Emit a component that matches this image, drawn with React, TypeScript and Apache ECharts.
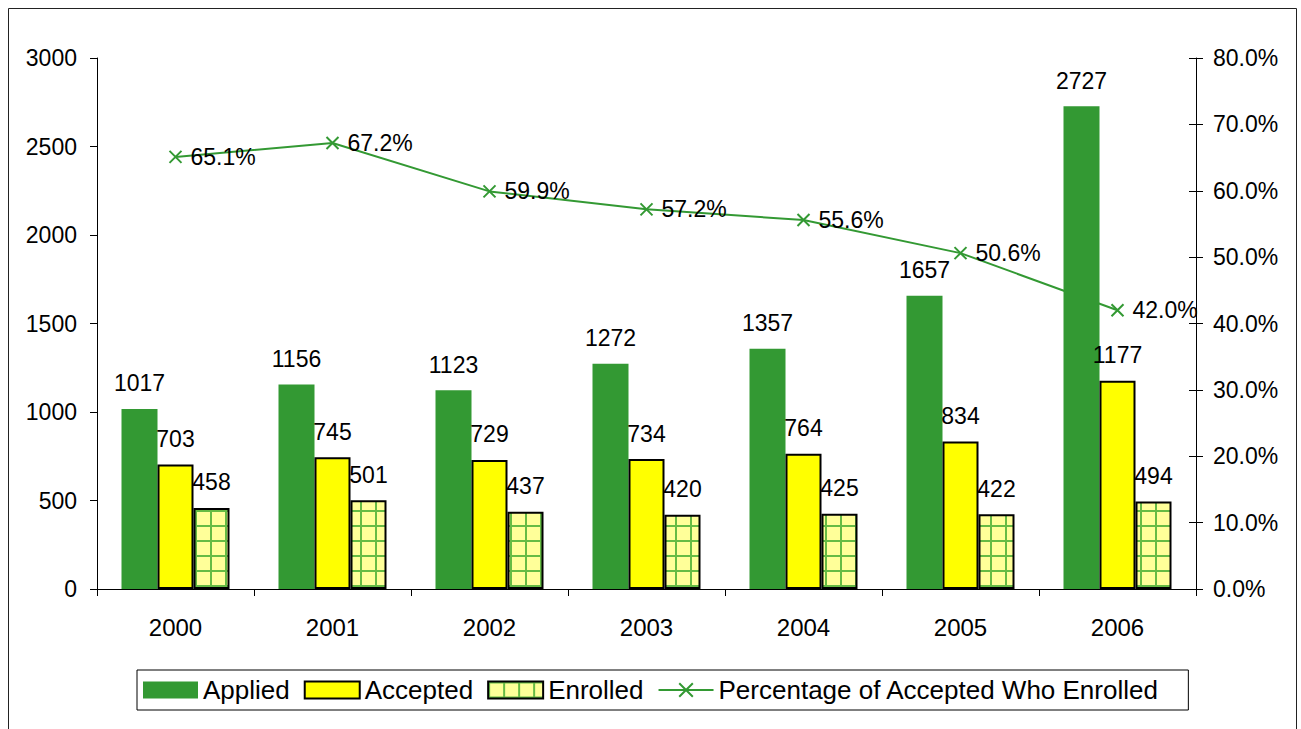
import React, { useEffect, useRef } from "react";
import * as echarts from "echarts";

const years = ["2000", "2001", "2002", "2003", "2004", "2005", "2006"];
const applied = [1017, 1156, 1123, 1272, 1357, 1657, 2727];
const accepted = [703, 745, 729, 734, 764, 834, 1177];
const enrolled = [458, 501, 437, 420, 425, 422, 494];
const pctEnrolled = [65.1, 67.2, 59.9, 57.2, 55.6, 50.6, 42.0];

const FONT = "'Liberation Sans', Arial, sans-serif";

function makePattern() {
  const c = document.createElement("canvas");
  c.width = 15;
  c.height = 15;
  const ctx = c.getContext("2d")!;
  ctx.fillStyle = "#FFFF99";
  ctx.fillRect(0, 0, 15, 15);
  ctx.fillStyle = "#66BB44";
  ctx.fillRect(0, 0, 2, 15);
  ctx.fillRect(0, 0, 15, 2);
  return c;
}

export default function App() {
  const ref = useRef<HTMLDivElement>(null);
  useEffect(() => {
    if (!ref.current) return;
    const chart = echarts.init(ref.current, null, { renderer: "svg" });
    const pattern = makePattern();
    const labelStyle = {
      show: true,
      position: "top",
      distance: 14,
      color: "#000",
      fontSize: 23,
      fontFamily: FONT,
    };
    chart.setOption({
      animation: false,
      backgroundColor: "#fff",
      textStyle: { fontFamily: FONT },
      graphic: [
        {
          type: "rect",
          shape: { x: 8.5, y: 8.5, width: 1288, height: 740 },
          style: { fill: "none", stroke: "#222", lineWidth: 1 },
          silent: true,
        },
      ],
      grid: { left: 97, right: 105, top: 58, bottom: 140, containLabel: false },
      legend: {
        left: 137,
        top: 670,
        borderColor: "#000",
        borderWidth: 1,
        padding: [7, 29, 7, 6],
        itemWidth: 55,
        itemHeight: 17,
        itemGap: 14,
        textStyle: { fontSize: 26, fontFamily: FONT, color: "#000" },
        data: [
          { name: "Applied", icon: "rect" },
          { name: "Accepted", icon: "rect" },
          { name: "Enrolled", icon: "rect" },
          { name: "Percentage of Accepted Who Enrolled" },
        ],
      },
      xAxis: {
        type: "category",
        data: years,
        axisLine: { lineStyle: { color: "#000", width: 1 } },
        axisTick: { show: true, length: 7, lineStyle: { color: "#000" } },
        axisLabel: { color: "#000", fontSize: 24, fontFamily: FONT, margin: 26 },
      },
      yAxis: [
        {
          type: "value",
          min: 0,
          max: 3000,
          interval: 500,
          position: "left",
          axisLine: { show: true, lineStyle: { color: "#000" } },
          axisTick: { show: true, length: 7, lineStyle: { color: "#000" } },
          axisLabel: {
            color: "#000",
            fontSize: 23,
            fontFamily: FONT,
            margin: 20,
            formatter: (v: number) => String(v),
          },
          splitLine: { show: false },
        },
        {
          type: "value",
          min: 0,
          max: 80,
          interval: 10,
          position: "right",
          axisLine: { show: true, lineStyle: { color: "#000" } },
          axisTick: { show: true, length: 7, lineStyle: { color: "#000" } },
          axisLabel: {
            color: "#000",
            fontSize: 23,
            fontFamily: FONT,
            margin: 17,
            formatter: (v: number) => v.toFixed(1) + "%",
          },
          splitLine: { show: false },
        },
        {
          type: "value",
          min: 0,
          max: 80,
          interval: 10,
          position: "right",
          axisLine: { show: false },
          axisTick: { show: true, inside: true, length: 7, lineStyle: { color: "#000" } },
          axisLabel: { show: false },
          splitLine: { show: false },
        },
      ],
      series: [
        {
          name: "Applied",
          type: "bar",
          data: applied,
          barWidth: 36,
          barGap: "0%",
          z: 3,
          itemStyle: { color: "#339933" },
          label: labelStyle,
        },
        {
          name: "Accepted",
          type: "bar",
          data: accepted,
          barWidth: 36,
          barGap: "0%",
          z: 3,
          itemStyle: { color: "#FFFF00", borderColor: "#000", borderWidth: 2 },
          label: labelStyle,
        },
        {
          name: "Enrolled",
          type: "bar",
          data: enrolled,
          barWidth: 36,
          barGap: "0%",
          z: 3,
          itemStyle: {
            color: { image: pattern, repeat: "repeat", imageWidth: 15, imageHeight: 15 },
            borderColor: "#000",
            borderWidth: 2,
          },
          label: labelStyle,
        },
        {
          name: "Percentage of Accepted Who Enrolled",
          type: "line",
          yAxisIndex: 1,
          data: pctEnrolled,
          z: 2,
          symbol: "path://M0,0L10,10M10,0L0,10",
          symbolSize: 12,
          lineStyle: { color: "#339933", width: 2 },
          itemStyle: { color: "#339933", borderColor: "#339933", borderWidth: 2 },
          label: {
            show: true,
            position: "right",
            distance: 8,
            color: "#000",
            fontSize: 23,
            fontFamily: FONT,
            formatter: (p: any) => Number(p.value).toFixed(1) + "%",
          },
        },
      ],
    });
    return () => chart.dispose();
  }, []);
  return (
    <div
      ref={ref}
      style={{ position: "absolute", left: 0, top: 0, width: 1301, height: 729 }}
    />
  );
}
